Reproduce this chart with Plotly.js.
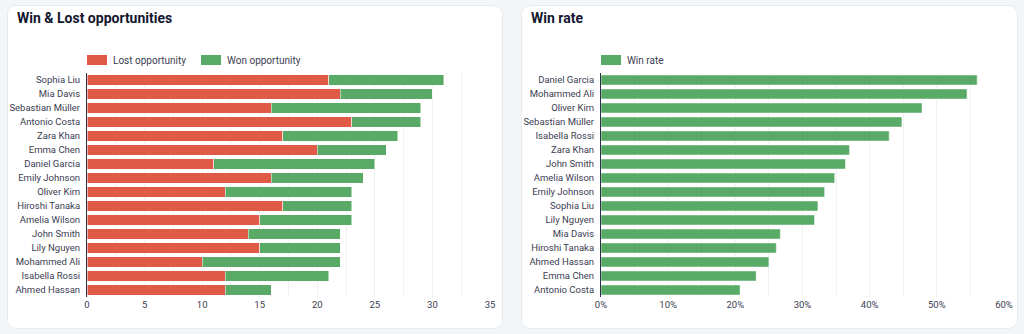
<!DOCTYPE html>
<html>
<head>
<meta charset="utf-8">
<script src="https://cdn.plot.ly/plotly-3.0.1.min.js"></script>
<style>
  html, body { margin: 0; padding: 0; background: #f3f6f8; width: 1024px; height: 334px; overflow: hidden; }
  .card { position: absolute; top: 5px; height: 324px; background: #ffffff; border: 1px solid #e6ebee; border-radius: 9px; box-sizing: border-box; overflow: hidden; }
  #c1 { left: 7px; width: 496px; }
  #c2 { left: 521px; width: 497px; }
  .plot { position: absolute; left: -1px; top: -1px; }
</style>
</head>
<body>
<div class="card" id="c1"><div class="plot" id="chart1"></div></div>
<div class="card" id="c2"><div class="plot" id="chart2"></div></div>
<script>
// Left chart data (top to bottom)
const people = ["Sophia Liu","Mia Davis","Sebastian Müller","Antonio Costa","Zara Khan","Emma Chen","Daniel Garcia","Emily Johnson","Oliver Kim","Hiroshi Tanaka","Amelia Wilson","John Smith","Lily Nguyen","Mohammed Ali","Isabella Rossi","Ahmed Hassan"];
const lostOpp = [21,22,16,23,17,20,11,16,12,17,15,14,15,10,12,12];
const wonOpp  = [10,8,13,6,10,6,14,8,11,6,8,8,7,12,9,4];
const seriesNames1 = ["Lost opportunity", "Won opportunity"];

// Right chart data (top to bottom)
const ratePeople = ["Daniel Garcia","Mohammed Ali","Oliver Kim","Sebastian Müller","Isabella Rossi","Zara Khan","John Smith","Amelia Wilson","Emily Johnson","Sophia Liu","Lily Nguyen","Mia Davis","Hiroshi Tanaka","Ahmed Hassan","Emma Chen","Antonio Costa"];
const winRate = [56.0,54.5,47.8,44.8,42.9,37.0,36.4,34.8,33.3,32.3,31.8,26.7,26.1,25.0,23.1,20.7];
const seriesNames2 = ["Win rate"];

const RED = "#e05a48";
const GREEN = "#58aa66";
const TXT = "#3b3d52";
const tickFont = {family: "Roboto, sans-serif", size: 9.5, color: TXT};
const titleFont = {family: "Roboto, sans-serif", size: 14, color: "#13172f", weight: 700};

// custom legend (swatch 20x10 + label), positioned relative to plot top-left
function legendItems(names, colors, offsets) {
  const shapes = [], annotations = [];
  names.forEach((n, i) => {
    shapes.push({type: "rect", xref: "paper", yref: "paper", xsizemode: "pixel", ysizemode: "pixel",
      xanchor: 0, yanchor: 1, x0: offsets[i], x1: offsets[i] + 20, y0: 8, y1: 18,
      fillcolor: colors[i], line: {width: 0}});
    annotations.push({xref: "paper", yref: "paper", x: 0, y: 1, xshift: offsets[i] + 24, yshift: 13,
      xanchor: "left", yanchor: "middle", showarrow: false, text: n,
      font: {family: "Roboto, sans-serif", size: 10, color: TXT}});
  });
  return {shapes, annotations};
}

function baseLayout(title, w) {
  return {
    width: w, height: 324,
    paper_bgcolor: "rgba(0,0,0,0)", plot_bgcolor: "rgba(0,0,0,0)",
    margin: {l: 80, r: w - 483, t: 68, b: 32},
    title: {text: title, font: titleFont, x: 10 / w, xanchor: "left", xref: "container", y: 1 - 13 / 324, yanchor: "middle", yref: "container"},
    showlegend: false,
    bargap: 0.28,
    barmode: "stack",
    yaxis: {type: "category", autorange: "reversed", showline: true, linecolor: "#2d3045", linewidth: 1, showgrid: false, ticks: "", tickfont: tickFont, zeroline: false, ticklabelstandoff: 4},
  };
}

const l1 = baseLayout("Win & Lost opportunities", 496);
l1.xaxis = {range: [0, 35], dtick: 5, tick0: 0, showgrid: true, gridcolor: "#eef0f2", gridwidth: 1, zeroline: false, tickfont: tickFont, ticks: "",
  minor: {dtick: 2.5, tick0: 0, showgrid: true, gridcolor: "#eef0f2", gridwidth: 1}};
const lg1 = legendItems(seriesNames1, [RED, GREEN], [0, 114]);
l1.shapes = lg1.shapes; l1.annotations = lg1.annotations;

Plotly.newPlot("chart1", [
  {type: "bar", orientation: "h", name: seriesNames1[0], y: people, x: lostOpp, marker: {color: RED, line: {color: "rgba(255,255,255,0.5)", width: 1}}},
  {type: "bar", orientation: "h", name: seriesNames1[1], y: people, x: wonOpp, marker: {color: GREEN, line: {color: "rgba(255,255,255,0.5)", width: 1}}}
], l1, {displayModeBar: false, staticPlot: true});

const l2 = baseLayout("Win rate", 497);
l2.xaxis = {range: [0, 60], dtick: 10, tick0: 0, ticksuffix: "%", showgrid: true, gridcolor: "#eef0f2", gridwidth: 1, zeroline: false, tickfont: tickFont, ticks: "",
  minor: {dtick: 5, tick0: 0, showgrid: true, gridcolor: "#eef0f2", gridwidth: 1}};
const lg2 = legendItems(seriesNames2, [GREEN], [0]);
l2.shapes = lg2.shapes; l2.annotations = lg2.annotations;

Plotly.newPlot("chart2", [
  {type: "bar", orientation: "h", name: seriesNames2[0], y: ratePeople, x: winRate, marker: {color: GREEN, line: {color: "rgba(255,255,255,0.5)", width: 1}}}
], l2, {displayModeBar: false, staticPlot: true});
</script>
</body>
</html>
